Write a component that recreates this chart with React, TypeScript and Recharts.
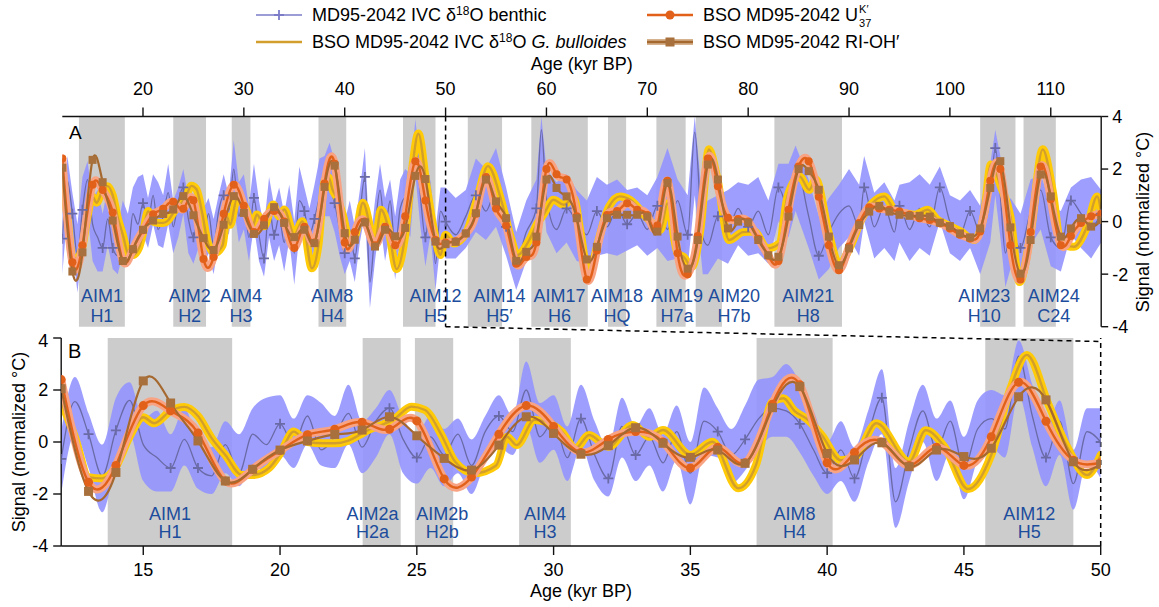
import React from "react";
import {
  ComposedChart,
  Line,
  Area,
  XAxis,
  YAxis,
  ReferenceArea,
  ReferenceLine,
} from "recharts";

type Pt = [number, number];
type BenthicRow = [number, number, number, number]; // age, mid, lower, upper

// MD95-2042 benthic d18O (normalized) with its envelope
const benthic: BenthicRow[] = [
  [12, -0.65, -2.0, 0.4], [12.5, 1.55, 0.3, 2.5], [13, 0.3, -1.0, 1.1], [13.5, -1.3, -2.7, -0.1],
  [14, 0.45, -0.9, 1.7], [14.5, 1.6, 0.3, 2.3], [15, -0.1, -1.5, 0.9], [15.5, -0.6, -1.9, 1.2],
  [16, -1.0, -1.9, 0.3], [16.5, 0.1, -0.9, 1.3], [17, -1.0, -1.8, 0.1], [17.5, -1.3, -2.0, -0.2],
  [18, -0.1, -1.2, 0.8], [18.5, -1.2, -1.7, 0.3], [19, 0.3, -0.9, 1.3], [19.5, -0.1, -1.2, 1.7],
  [20, 0.7, -0.5, 1.8], [20.5, -0.1, -1.0, 0.9], [21, 1.0, -0.1, 1.8], [21.5, -0.3, -0.9, 1.5],
  [22, 0.2, -1.0, 1.0], [22.5, 1.1, -0.1, 2.2], [23, -0.2, -1.2, 0.8], [23.5, 0.8, -0.6, 1.3],
  [24, 1.3, 0.3, 2.0], [24.5, 0.1, -1.2, 0.9], [25, -0.6, -1.6, 0.3], [25.5, 0.2, -1.0, 1.0],
  [26, -0.5, -1.7, 0.5], [26.5, 0.3, -1.2, 0.9], [27, -0.9, -2.0, 0.1], [27.5, 0.4, -0.8, 1.0],
  [28, 1.0, -0.2, 1.8], [28.5, 0.4, -0.5, 1.0], [29, 2.0, 0.6, 3.1], [29.5, 0.2, -0.8, 1.5],
  [30, 0.8, -0.3, 1.8], [30.5, -0.6, -1.5, 0.6], [31, 0.9, -0.2, 2.2], [31.5, -0.5, -1.5, 0.8],
  [32, -1.4, -2.1, -0.2], [32.5, 0.6, -0.6, 1.7], [33, -0.5, -1.5, 0.6], [33.5, 0.2, -0.9, 1.3],
  [34, -0.8, -1.9, 0.3], [34.5, 0.4, -0.7, 1.4], [35, -1.2, -2.4, 0.0], [35.5, 0.8, -0.5, 2.1],
  [36, 0.4, -0.6, 1.3], [36.5, -0.5, -1.6, 0.5], [37, 0.1, -1.1, 1.4], [37.5, 0.9, -0.3, 2.4],
  [38, 1.3, 0.2, 2.5], [38.5, 1.2, 0.2, 3.0], [39, 0.7, -0.4, 2.3], [39.5, -0.3, -1.3, 1.2],
  [40, -1.2, -2.0, 0.0], [40.5, -0.3, -1.5, 0.8], [41, -1.4, -2.3, -0.2], [41.5, 0.3, -0.8, 1.2],
  [42, 1.7, 0.3, 2.8], [42.5, -2.3, -3.3, -1.0], [43, -0.3, -1.5, 0.8], [43.5, 1.2, 0.0, 2.2],
  [44, -0.3, -1.5, 0.9], [44.5, 0.8, -0.4, 1.6], [45, -1.0, -2.2, 0.2], [45.5, 0.5, -0.7, 1.6],
  [46, 0.9, -0.2, 2.0], [46.5, 0.5, -0.6, 1.8], [47, 3.3, 1.8, 3.9], [47.5, 1.0, -0.2, 2.2],
  [48, -0.6, -1.7, 0.6], [48.5, 0.8, -0.5, 1.6], [49, -1.6, -2.6, -0.3], [49.5, 0.4, -0.8, 1.3],
  [50, 0.0, -1.4, 1.3],
  [51, -0.5, -1.4, 0.9], [52, 0.2, -1.0, 1.2], [53, 1.0, -0.4, 2.4], [54, 0.4, -0.7, 2.0],
  [55, 1.2, -0.2, 2.8], [56, -0.2, -1.3, 1.3], [57, -1.5, -2.6, -0.4], [58, -0.4, -1.5, 0.8],
  [59, 0.5, -0.5, 1.6], [59.5, 3.5, 1.5, 4.0], [60, 0.9, -0.4, 2.0], [61, -0.3, -1.2, 1.5],
  [62, 0.5, -0.8, 1.8], [63, 0.0, -1.5, 1.2], [64, -0.5, -1.6, 0.8], [65, 0.4, -1.3, 1.7],
  [66, -0.2, -1.2, 1.4], [67, 0.5, -1.3, 1.6], [68, -0.1, -1.1, 1.2], [69, 0.3, -0.9, 1.3],
  [70, -0.3, -1.3, 1.0], [71, 0.6, -1.0, 1.7], [72, -0.3, -1.5, 2.8], [73, 0.8, -1.4, 1.6],
  [74, -0.5, -1.8, 1.0], [74.7, 3.4, 1.0, 4.0], [75.5, -0.6, -2.0, 0.6], [76, -0.9, -2.0, 0.8],
  [77, 0.2, -1.4, 1.0], [78, -0.3, -1.6, 1.2], [79, 0.5, -0.9, 1.5], [80, -0.2, -1.3, 1.4],
  [81, 0.4, -1.2, 1.7], [82, -0.5, -1.6, 0.8], [83, 1.3, 0.0, 2.2], [84, 0.5, -0.6, 2.2],
  [84.7, 2.2, 0.4, 2.9], [86, 0.2, -1.0, 1.6], [87, -1.3, -2.2, 0.2], [88, -0.4, -1.8, 0.9],
  [89, 0.3, -1.0, 1.4], [90, 0.6, -0.6, 2.0], [91, -0.2, -1.3, 1.4], [91.5, 1.3, 0.0, 2.5],
  [92.5, -0.2, -1.4, 1.1], [93.5, 0.6, -1.0, 1.5], [94.5, -0.4, -1.5, 0.8], [95, 0.6, -0.8, 1.4],
  [96, -0.3, -1.5, 1.5], [97, 0.5, -1.0, 1.8], [98, -0.2, -1.3, 1.4], [99, 1.3, 0.0, 2.1],
  [100, 0.0, -1.2, 1.0], [101, -0.5, -1.5, 0.8], [102, 0.4, -1.0, 1.2], [103, -0.4, -2.0, 0.6],
  [104, 1.0, -0.8, 2.2], [104.5, 2.8, 1.0, 3.5], [105, 1.0, -0.6, 2.5], [105.5, -1.2, -2.5, 0.2],
  [106, -0.5, -1.8, 0.9], [107, -1.0, -2.4, 0.3], [108, 0.4, -0.9, 1.6], [109, 1.2, -0.3, 1.8],
  [110, -0.6, -1.7, 0.6], [111, -1.0, -1.9, 0.4], [112, 0.8, -0.5, 1.3], [113, 0.3, -1.0, 1.6],
  [114, -0.2, -1.4, 1.7], [115, 0.3, -0.8, 1.2],
];

// ages of the measured benthic samples (drawn as + markers)
const benthicSamples = [
  12, 13, 14, 16, 17, 20, 24, 25, 28, 31, 32, 33, 36, 37, 39, 40, 41, 42, 48, 50,
  53, 56, 59, 62, 65, 68, 71, 74, 77, 80, 83, 87, 91.5, 95, 99, 102, 104.5, 107, 110, 112, 115,
];

// G. bulloides d18O (normalized)
const bulloides: Pt[] = [
  [12, 1.55], [12.5, 0.2], [13, -1.35], [13.5, -1.4], [14, -0.95], [14.5, 0.2], [15, 0.95],
  [15.4, 0.72], [16, 1.2], [16.5, 1.35], [17, 1.0], [17.5, 0.15], [18, -0.5], [18.6, -1.27],
  [19, -1.27], [19.6, -1.0], [20, -0.45], [20.5, 0.4], [21, 0.0], [21.6, -0.05], [22, -0.05],
  [22.5, 0.05], [22.9, 0.27], [23.3, 0.5], [23.7, 0.65], [24.2, 0.9], [24.8, 1.36], [25.3, 1.23],
  [25.9, 0.27], [26.4, -0.76], [27.1, -1.2], [27.9, -0.9], [28.3, 0.2], [28.65, -0.12], [29.3, 0.85],
  [29.7, 0.78], [30.3, 0.4], [30.8, -0.24], [31.3, 0.27], [32, -0.18], [32.9, 0.65], [33.5, 0.2],
  [34, 0.46], [35, -0.5], [35.8, 0.01], [36.75, -1.78], [37.4, -0.88], [38, 1.55], [38.4, 1.68],
  [38.8, 1.2], [39.3, 0.85], [39.8, 0.27], [40.5, -0.7], [41, -0.6], [41.8, 0.72], [43, -0.76],
  [43.6, 0.45], [44.3, -0.2], [45.15, -1.81], [46, -0.5], [46.7, 2.06], [47.3, 3.35], [48.1, 1.42],
  [48.8, -0.24], [49.5, -1.27], [50, -0.5],
  [50.8, -0.83], [52.1, -0.38], [53.1, 0.83], [54.2, 2.11], [55.5, 0.83], [56.5, -0.64], [57.1, -1.28],
  [58.3, -0.7], [59.1, -0.06], [59.7, 0.26], [60.7, 0.83], [61.7, 0.64], [62.7, 0.89], [63.4, -0.45],
  [64.2, -2.11], [65, -0.96], [66.2, 0.57], [67.3, 0.96], [68.3, 0.83], [70, 0.13], [71.3, -0.32],
  [72, 0.7], [73, -1.21], [73.6, -1.34], [74.4, -1.72], [75.3, -0.19], [76.1, 2.75], [76.9, 1.72],
  [78.1, -0.7], [79.5, -0.4], [80.6, -0.38], [81.9, -1.02], [83.1, -0.83], [83.9, 0.96], [85.1, 1.72],
  [86.05, 1.21], [86.7, 1.6], [88, -0.45], [89, -1.6], [90.2, -0.89], [91.2, 0.06], [92.3, 0.7],
  [93.5, 0.96], [94.5, 0.45], [95.5, 0.32], [96.5, 0.26], [97.8, 0.45], [98.8, 0.06], [99.8, -0.13],
  [101.1, -0.38], [102.4, -0.7], [103.4, 0.32], [104.06, 2.17], [105.05, 1.34], [106, 0.19],
  [106.9, -2.3], [108, -0.45], [109.2, 2.75], [110.2, 1.15], [111, -0.83], [112.3, -0.96],
  [113.6, -0.19], [114.6, 0.96], [115, 0.32],
];

// UK'37 SST (normalized)
const uk37: Pt[] = [
  [12, 2.4], [13, -1.55], [14, -0.9], [15, 1.4], [16, 1.2], [17, 0.35], [18, -1.5], [19, -1.05],
  [20, -0.33], [21, 0.28], [22, 0.49], [23, 0.76], [24, 0.49], [25, 0.81], [26, -1.42], [27, -1.35],
  [28, 0.3], [29, 1.4], [30, 0.6], [31, -0.4], [32, 0.1], [33, 0.4], [34, 0.0], [35, -1.0],
  [36, -0.2], [37, -0.8], [38, 1.45], [39, 2.2], [40, -0.8], [41, -0.4], [42, 0.0], [43, -0.9],
  [44, -0.2], [45, -0.9], [46, 0.2], [47, 2.3], [48, 0.8], [49, -0.7], [50, -0.8],
  [51, -0.75], [52, -0.45], [53, 0.3], [54, 1.7], [55, 0.5], [56, -0.15], [57, -1.6], [58, -1.35],
  [59, -0.8], [60, 2.0], [61, 1.8], [62, 1.6], [63, 0.2], [64, -2.2], [65, -1.1], [66, 0.25],
  [67, 0.4], [68, 0.7], [69, 0.45], [70, 0.25], [71, -0.15], [72, 1.55], [73, -1.2], [74, -2.0],
  [75, -0.55], [76, 2.4], [77, 1.35], [78, 0.15], [79, 0.1], [80, 0.0], [81, -0.65], [82, -1.3],
  [83, -1.5], [84, 0.45], [85, 2.1], [86, 2.3], [87, 0.95], [88, -0.9], [89, -1.85], [90, -0.95],
  [91, -0.05], [92, 0.55], [93, 0.5], [94, 0.45], [95, 0.38], [96, 0.26], [97, 0.13], [98, 0.06],
  [99, -0.06], [100, -0.26], [101, -0.5], [102, -0.64], [103, -0.38], [104, 1.55], [105, 2.0],
  [106, -0.9], [107, -2.2], [108, -0.4], [109, 2.1], [110, 0.85], [111, -0.9], [112, -0.55],
  [113, -0.05], [114, 0.2], [115, 0.3],
];

// RI-OH' SST (normalized)
const riOH: Pt[] = [
  [12, 2.05], [13, -1.9], [14, -1.17], [15, 2.35], [16, 1.5], [17, 0.04], [18, -1.5], [19, -1.05],
  [20, -0.31], [21, 0.04], [22, 0.29], [23, 0.46], [24, 0.97], [25, 0.24], [26, -0.63], [27, -1.08],
  [28, -0.12], [29, 0.97], [30, 0.33], [31, -0.47], [32, -0.14], [33, 0.55], [34, -0.05], [35, -0.59],
  [36, -0.31], [37, -0.82], [38, 1.32], [39, 2.13], [40, -0.44], [41, -0.69], [42, -0.03], [43, -0.95],
  [44, -0.31], [45, -0.56], [46, -0.24], [47, 1.74], [48, 1.62], [49, -0.76], [50, -0.86],
  [51, -0.77], [52, -0.45], [53, 0.32], [54, 1.6], [55, 0.77], [56, 0.13], [57, -1.49], [58, -1.15],
  [59, -0.57], [60, 1.6], [61, 1.28], [62, 0.96], [63, 0.13], [64, -1.44], [65, -0.96], [66, 0.13],
  [67, 0.26], [68, 0.26], [69, 0.26], [70, 0.19], [71, -0.38], [72, 1.47], [73, -0.57], [74, -1.79],
  [75, -0.7], [76, 2.17], [77, 1.6], [78, -0.26], [79, 0.0], [80, -0.04], [81, -0.7], [82, -1.28],
  [83, -1.34], [84, 0.19], [85, 2.0], [86, 1.92], [87, 1.21], [88, -0.57], [89, -1.66], [90, -1.02],
  [91, -0.13], [92, 0.38], [93, 0.6], [94, 0.38], [95, 0.26], [96, 0.22], [97, 0.22], [98, 0.19],
  [99, -0.04], [100, -0.17], [101, -0.45], [102, -0.6], [103, -0.26], [104, 1.28], [105, 2.3],
  [106, -0.22], [107, -1.98], [108, -0.7], [109, 1.79], [110, 0.96], [111, -0.57], [112, -0.26],
  [113, 0.13], [114, -0.19], [115, 0.06],
];

type Aim = { from: number; to: number; aim: string; h: string };

// Antarctic Isotope Maxima / Heinrich stadials, full record
const aimsA: Aim[] = [
  { from: 13.65, to: 18.2, aim: "AIM1", h: "H1" },
  { from: 23.0, to: 26.25, aim: "AIM2", h: "H2" },
  { from: 28.8, to: 30.65, aim: "AIM4", h: "H3" },
  { from: 37.4, to: 40.15, aim: "AIM8", h: "H4" },
  { from: 45.78, to: 49.0, aim: "AIM12", h: "H5" },
  { from: 52.2, to: 55.6, aim: "AIM14", h: "H5′" },
  { from: 58.5, to: 64.1, aim: "AIM17", h: "H6" },
  { from: 66.1, to: 67.9, aim: "AIM18", h: "HQ" },
  { from: 70.9, to: 73.8, aim: "AIM19", h: "H7a" },
  { from: 74.8, to: 77.4, aim: "AIM20", h: "H7b" },
  { from: 82.6, to: 89.3, aim: "AIM21", h: "H8" },
  { from: 103.0, to: 106.5, aim: "AIM23", h: "H10" },
  { from: 107.3, to: 110.5, aim: "AIM24", h: "C24" },
];

// same events, 12-50 kyr detail
const aimsB: Aim[] = [
  { from: 13.7, to: 18.25, aim: "AIM1", h: "H1" },
  { from: 23.02, to: 24.41, aim: "AIM2a", h: "H2a" },
  { from: 24.93, to: 26.33, aim: "AIM2b", h: "H2b" },
  { from: 28.74, to: 30.63, aim: "AIM4", h: "H3" },
  { from: 37.42, to: 40.2, aim: "AIM8", h: "H4" },
  { from: 45.78, to: 49.0, aim: "AIM12", h: "H5" },
];

const ticksTop = [20, 30, 40, 50, 60, 70, 80, 90, 100, 110];
const ticksBottom = [15, 20, 25, 30, 35, 40, 45, 50];
const ticksSignal = [-4, -2, 0, 2, 4];

// ---- layout / style ----
const W = 1159;
const H = 607;
const FONT = "'Liberation Sans', Arial, Helvetica, sans-serif";

const C = {
  benthic: "#6a6aa6",
  benthicBand: "#9494ff",
  bulloides: "#d39f2c",
  bulloidesBand: "#ffcb08",
  uk37: "#e2611a",
  uk37Band: "#f8a383",
  rioh: "#a5692f",
  shade: "#cccccc",
  aim: "#1c4c9c",
  axis: "#111",
};

const A_BOX = { left: 62.3, right: 1101.2, top: 116.5, bottom: 326.7 };
const B_TOP = 330;
const B_H = H - B_TOP;
const B_BOX = { left: 61.2, right: 1100.7, top: 338, bottom: 546 };

// label nudges (kyr) where the text is pushed off the band centre
const nudgeA: Record<string, number> = { AIM12: 1.6, AIM14: 1.45, AIM19: 0.6, AIM20: 2.5, AIM23: -1.35, AIM24: 1.4 };
const nudgeB: Record<string, number> = { AIM2a: -0.33, AIM2b: 0.3 };

const tickStyle = { fill: "#000", fontSize: 18, fontFamily: FONT };
const axisStroke = { stroke: C.axis, strokeWidth: 1.4 };

const sampleSet = new Set(benthicSamples);

function benthicData(max: number) {
  return benthic
    .filter((r) => r[0] <= max)
    .map(([age, mid, lo, hi]) => ({ age, mid, band: [lo, hi], sample: sampleSet.has(age) }));
}

function pts(src: Pt[], max: number) {
  return src.filter((p) => p[0] <= max).map(([age, v]) => ({ age, v }));
}

const plusDot = (p: any) => {
  if (!p.payload?.sample || p.cx == null) return <g key={`pl-${p.index}`} />;
  return (
    <path
      key={`pl-${p.index}`}
      d={`M${p.cx - 5},${p.cy}h10M${p.cx},${p.cy - 5}v10`}
      stroke={C.benthic}
      strokeWidth={1.8}
      fill="none"
    />
  );
};

const squareDot = (size: number) => (p: any) =>
  p.cx == null ? (
    <g key={`sq-${p.index}`} />
  ) : (
    <rect key={`sq-${p.index}`} x={p.cx - size / 2} y={p.cy - size / 2} width={size} height={size} fill="#a8703c" />
  );

function aimLabel(a: Aim, nudge: number, firstUp: number, secondUp: number) {
  return (props: any) => {
    const vb = props.viewBox ?? {};
    const pxPerKyr = vb.width / (a.to - a.from);
    const cx = vb.x + vb.width / 2 + nudge * pxPerKyr;
    const base = vb.y + vb.height;
    return (
      <g>
        <text x={cx} y={base - firstUp} textAnchor="middle" fill={C.aim} fontSize={18} fontFamily={FONT}>
          {a.aim}
        </text>
        <text x={cx} y={base - secondUp} textAnchor="middle" fill={C.aim} fontSize={18} fontFamily={FONT}>
          {a.h}
        </text>
      </g>
    );
  };
}

// grey bands first, then an invisible copy of each band that only carries the text,
// so a neighbouring band never paints over a label
function shading(list: Aim[]) {
  return list.map((a) => (
    <ReferenceArea key={`aim-${a.aim}`} x1={a.from} x2={a.to} fill={C.shade} fillOpacity={1} stroke="none" />
  ));
}

function shadingLabels(list: Aim[], nudges: Record<string, number>, firstUp: number, secondUp: number) {
  return list.map((a) => (
    <ReferenceArea
      key={`aimlbl-${a.aim}`}
      x1={a.from}
      x2={a.to}
      fill="none"
      fillOpacity={0}
      stroke="none"
      label={aimLabel(a, nudges[a.aim] ?? 0, firstUp, secondUp)}
    />
  ));
}

function series(max: number, markerSize: number, bandCurve: "monotone" | "linear") {
  const b = benthicData(max);
  const g = pts(bulloides, max);
  const u = pts(uk37, max);
  const r = pts(riOH, max);
  return [
    <Area key="b-band" data={b} dataKey="band" type={bandCurve} stroke="none" fill={C.benthicBand} fillOpacity={0.9} isAnimationActive={false} activeDot={false} />,
    <Line key="b-mid" data={b} dataKey="mid" type="monotone" stroke={C.benthic} strokeWidth={1.3} dot={plusDot} activeDot={false} isAnimationActive={false} />,
    <Line key="g-band" data={g} dataKey="v" type="monotone" stroke={C.bulloidesBand} strokeWidth={8} strokeLinejoin="round" strokeLinecap="round" dot={false} activeDot={false} isAnimationActive={false} />,
    <Line key="g-line" data={g} dataKey="v" type="monotone" stroke={C.bulloides} strokeWidth={2.4} dot={false} activeDot={false} isAnimationActive={false} />,
    <Line key="u-band" data={u} dataKey="v" type="natural" stroke={C.uk37Band} strokeWidth={8} strokeLinejoin="round" strokeLinecap="round" dot={false} activeDot={false} isAnimationActive={false} />,
    <Line key="u-line" data={u} dataKey="v" type="natural" stroke={C.uk37} strokeWidth={2.4} dot={{ r: markerSize / 2, fill: C.uk37, stroke: "none" }} activeDot={false} isAnimationActive={false} />,
    <Line key="r-line" data={r} dataKey="v" type="natural" stroke={C.rioh} strokeWidth={2.2} dot={squareDot(markerSize)} activeDot={false} isAnimationActive={false} />,
  ];
}

function LegendIcon({ kind }: { kind: "benthic" | "uk" | "bul" | "ri" }) {
  const color = { benthic: "#7b7bc8", uk: C.uk37, bul: C.bulloides, ri: C.rioh }[kind];
  return (
    <svg width={48} height={14} style={{ display: "block" }}>
      {kind === "ri" && <line x1={1} y1={7} x2={47} y2={7} stroke="#d6b38e" strokeWidth={6} />}
      <line x1={1} y1={7} x2={47} y2={7} stroke={color} strokeWidth={kind === "benthic" ? 1.6 : 2.6} />
      {kind === "benthic" && <path d="M24,2v10M19,7h10" stroke={color} strokeWidth={1.8} />}
      {kind === "uk" && <circle cx={24} cy={7} r={4.5} fill={C.uk37} />}
      {kind === "ri" && <rect x={19.5} y={2.5} width={9} height={9} fill="#a8703c" />}
    </svg>
  );
}

const d18O = (
  <>
    δ<sup style={{ fontSize: 12, verticalAlign: "6px", lineHeight: 0 }}>18</sup>O
  </>
);

function LegendEntry({ left, cy, kind, children }: { left: number; cy: number; kind: "benthic" | "uk" | "bul" | "ri"; children: React.ReactNode }) {
  return (
    <>
      <div style={{ position: "absolute", left, top: cy - 7 }}>
        <LegendIcon kind={kind} />
      </div>
      <div style={{ position: "absolute", left: left + 57, top: cy - 11, height: 22, lineHeight: "22px", fontSize: 18, whiteSpace: "nowrap" }}>
        {children}
      </div>
    </>
  );
}

export default function App() {
  const xAtA = (age: number) => A_BOX.left + ((age - 12) / (115 - 12)) * (A_BOX.right - A_BOX.left);

  return (
    <div style={{ position: "absolute", left: 0, top: 0, width: W, height: H, background: "#fff", fontFamily: FONT, color: "#000", overflow: "hidden" }}>
      {/* legend */}
      <LegendEntry left={255} cy={15} kind="benthic">MD95-2042 IVC {d18O} benthic</LegendEntry>
      <LegendEntry left={646} cy={15} kind="uk">
        BSO MD95-2042 U
        <span style={{ position: "relative", display: "inline-block", width: 18, height: 0 }}>
          <span style={{ position: "absolute", left: 1, top: -17, fontSize: 11, lineHeight: "11px" }}>K′</span>
          <span style={{ position: "absolute", left: 1, top: -3, fontSize: 11, lineHeight: "11px" }}>37</span>
        </span>
      </LegendEntry>
      <LegendEntry left={255} cy={42} kind="bul">
        BSO MD95-2042 IVC {d18O} <i>G. bulloides</i>
      </LegendEntry>
      <LegendEntry left={646} cy={42} kind="ri">BSO MD95-2042 RI-OH′</LegendEntry>

      {/* axis titles */}
      <div style={{ position: "absolute", left: 0, width: W, top: 53, textAlign: "center", fontSize: 18, lineHeight: "22px" }}>
        <span style={{ position: "relative", left: (A_BOX.left + A_BOX.right) / 2 - W / 2 }}>Age (kyr BP)</span>
      </div>
      <div style={{ position: "absolute", left: 0, width: W, top: 580, textAlign: "center", fontSize: 18, lineHeight: "22px" }}>
        <span style={{ position: "relative", left: (B_BOX.left + B_BOX.right) / 2 - W / 2 }}>Age (kyr BP)</span>
      </div>
      <div style={{ position: "absolute", left: 1143 - 120, top: (A_BOX.top + A_BOX.bottom) / 2 - 11, width: 240, height: 22, lineHeight: "22px", textAlign: "center", fontSize: 18, transform: "rotate(-90deg)" }}>
        Signal (normalized °C)
      </div>
      <div style={{ position: "absolute", left: 19 - 120, top: (B_BOX.top + B_BOX.bottom) / 2 - 11, width: 240, height: 22, lineHeight: "22px", textAlign: "center", fontSize: 18, transform: "rotate(-90deg)" }}>
        Signal (normalized °C)
      </div>

      {/* panel A: full record */}
      <div style={{ position: "absolute", left: 0, top: 0 }}>
        <ComposedChart
          width={W}
          height={340}
          margin={{ top: A_BOX.top - 30, right: W - A_BOX.right - 40, bottom: 340 - A_BOX.bottom, left: A_BOX.left }}
        >
          <XAxis
            type="number"
            dataKey="age"
            orientation="top"
            domain={[12, 115]}
            ticks={ticksTop}
            allowDataOverflow
            height={30}
            tickSize={9}
            tickMargin={13}
            axisLine={axisStroke}
            tickLine={axisStroke}
            tick={tickStyle}
          />
          <YAxis
            type="number"
            orientation="right"
            domain={[-4, 4]}
            ticks={ticksSignal}
            allowDataOverflow
            width={40}
            tickSize={7}
            tickMargin={4}
            axisLine={axisStroke}
            tickLine={axisStroke}
            tick={tickStyle}
          />
          {shading(aimsA)}
          {shadingLabels(aimsA, nudgeA, 25.2, 5.2)}
          {series(115, 8, "linear")}
          <ReferenceLine x={50} stroke="#000" strokeWidth={1.5} strokeDasharray="5 4" />
        </ComposedChart>
      </div>

      {/* panel B: 12-50 kyr detail */}
      <div style={{ position: "absolute", left: 0, top: B_TOP }}>
        <ComposedChart
          width={W}
          height={B_H}
          margin={{ top: B_BOX.top - B_TOP, right: W - B_BOX.right, bottom: B_TOP + B_H - B_BOX.bottom - 40, left: B_BOX.left - 45 }}
        >
          <XAxis
            type="number"
            dataKey="age"
            orientation="bottom"
            domain={[12, 50]}
            ticks={ticksBottom}
            allowDataOverflow
            height={40}
            tickSize={9}
            tickMargin={8}
            axisLine={axisStroke}
            tickLine={axisStroke}
            tick={tickStyle}
          />
          <YAxis
            type="number"
            orientation="left"
            domain={[-4, 4]}
            ticks={ticksSignal}
            allowDataOverflow
            width={45}
            tickSize={8}
            tickMargin={5}
            axisLine={axisStroke}
            tickLine={axisStroke}
            tick={tickStyle}
          />
          {shading(aimsB)}
          {shadingLabels(aimsB, nudgeB, 26, 8)}
          {series(50, 9, "monotone")}
          <ReferenceLine x={50} stroke="#000" strokeWidth={1.5} strokeDasharray="5 4" />
        </ComposedChart>
      </div>

      {/* zoom connector from A (50 kyr) to the right edge of B */}
      <svg width={W} height={H} style={{ position: "absolute", left: 0, top: 0, pointerEvents: "none" }}>
        <line x1={xAtA(50)} y1={A_BOX.bottom} x2={B_BOX.right} y2={B_BOX.top + 3.5} stroke="#000" strokeWidth={1.5} strokeDasharray="5 4" />
      </svg>

      {/* panel letters */}
      <div style={{ position: "absolute", left: 69, top: 122, fontSize: 19, lineHeight: "22px" }}>A</div>
      <div style={{ position: "absolute", left: 68, top: 340, fontSize: 20, lineHeight: "22px" }}>B</div>
    </div>
  );
}
